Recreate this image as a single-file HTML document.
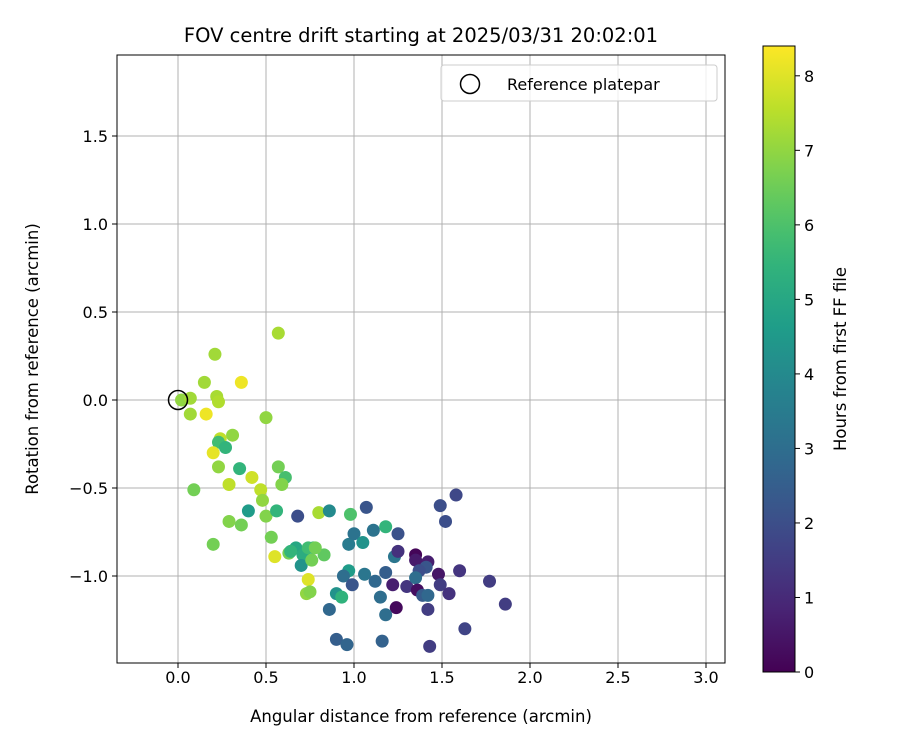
<!DOCTYPE html>
<html><head><meta charset="utf-8"><style>
body{margin:0;background:#fff;font-family:"Liberation Sans","DejaVu Sans",sans-serif}
svg text{font-family:"DejaVu Sans","Liberation Sans",sans-serif;fill:#000}
</style></head><body>
<svg id="chart" width="900" height="750" viewBox="0 0 900 750" xmlns="http://www.w3.org/2000/svg"></svg>
<script>
const xs=[0.57,0.21,0.15,0.36,0.02,0.07,0.22,0.23,0.07,0.16,0.50,0.24,0.31,0.23,0.27,0.20,0.23,0.35,0.57,0.61,0.59,0.42,0.29,0.09,0.47,0.48,0.40,0.50,0.56,0.68,0.80,0.86,0.98,0.29,0.36,1.07,1.11,1.18,1.25,1.49,1.58,1.52,0.53,0.20,0.55,0.63,0.67,0.64,0.71,0.77,0.74,0.70,0.76,0.74,0.73,0.75,0.97,1.00,1.05,0.97,0.94,0.99,1.06,1.12,1.15,1.18,1.23,1.25,1.35,1.35,1.42,1.41,1.37,1.48,1.22,1.30,1.35,1.36,1.39,1.42,1.49,1.54,1.60,1.77,1.86,1.24,1.18,1.42,1.63,0.86,0.90,0.93,0.90,0.96,1.16,1.43,0.83,0.78];
const ys=[0.38,0.26,0.10,0.10,0.0,0.01,0.02,-0.01,-0.08,-0.08,-0.10,-0.22,-0.20,-0.24,-0.27,-0.30,-0.38,-0.39,-0.38,-0.44,-0.48,-0.44,-0.48,-0.51,-0.51,-0.57,-0.63,-0.66,-0.63,-0.66,-0.64,-0.63,-0.65,-0.69,-0.71,-0.61,-0.74,-0.72,-0.76,-0.60,-0.54,-0.69,-0.78,-0.82,-0.89,-0.87,-0.84,-0.86,-0.88,-0.84,-0.84,-0.94,-0.91,-1.02,-1.10,-1.09,-0.82,-0.76,-0.81,-0.97,-1.00,-1.05,-0.99,-1.03,-1.12,-0.98,-0.89,-0.86,-0.88,-0.91,-0.92,-0.95,-0.97,-0.99,-1.05,-1.06,-1.01,-1.08,-1.11,-1.11,-1.05,-1.10,-0.97,-1.03,-1.16,-1.18,-1.22,-1.19,-1.30,-1.19,-1.10,-1.12,-1.36,-1.39,-1.37,-1.40,-0.88,-0.84];
const hours=[7.3,7.2,7.2,8.2,7.0,7.2,7.3,7.4,7.2,8.2,7.0,7.6,7.0,5.8,5.5,8.1,7.0,5.5,6.6,5.9,6.8,7.8,7.6,6.6,7.6,7.0,4.6,6.8,5.5,2.0,7.3,4.0,6.0,6.8,6.6,2.2,3.2,5.5,2.1,2.0,1.8,2.0,6.6,6.6,8.0,6.6,5.0,5.5,5.2,5.6,5.8,4.3,6.6,8.0,7.0,6.8,3.5,3.2,4.3,4.6,3.0,2.2,3.3,2.8,3.0,2.5,3.3,1.2,0.1,0.6,0.7,2.2,2.0,0.5,0.7,1.3,3.0,0.3,2.4,2.8,1.5,1.2,1.3,1.5,1.5,0.2,3.0,1.5,1.7,2.8,4.3,5.4,2.5,2.7,2.6,1.5,6.3,6.6];
const xTicks=[0,0.5,1,1.5,2,2.5,3], xTickLabels=["0.0","0.5","1.0","1.5","2.0","2.5","3.0"];
const yTicks=[-1,-0.5,0,0.5,1,1.5], yTickLabels=["−1.0","−0.5","0.0","0.5","1.0","1.5"];
const cTicks=[0,1,2,3,4,5,6,7,8];
const L=117,R=725,T=55,B=663;
const X=v=>178+v*176, Y=v=>400-v*176;
const CT=46,CB=672,CMAX=8.4, CY=v=>CB-(v/CMAX)*(CB-CT);
const stops=[[68,1,84],[72,40,120],[62,74,137],[49,104,142],[38,130,142],[31,158,137],[53,183,121],[110,206,88],[181,222,43],[253,231,37]];
function vir(t){t=Math.max(0,Math.min(1,t));const p=t*(stops.length-1),i=Math.min(stops.length-2,Math.floor(p)),f=p-i;const a=stops[i],b=stops[i+1];return`rgb(${a.map((v,k)=>Math.round(v+(b[k]-v)*f)).join(',')})`;}
const svg=document.getElementById('chart');const NS='http://www.w3.org/2000/svg';
function el(tag,attrs,parent){const e=document.createElementNS(NS,tag);for(const k in attrs)e.setAttribute(k,attrs[k]);(parent||svg).appendChild(e);return e;}
const grid=el('g',{});


xTicks.forEach((v,i)=>{el('line',{x1:X(v),x2:X(v),y1:T,y2:B,stroke:'#b0b0b0','stroke-width':1},grid);
el('line',{x1:X(v),x2:X(v),y1:B,y2:B+5,stroke:'#000'});
const t=el('text',{x:X(v),y:B+20,'text-anchor':'middle','font-size':16});t.textContent=xTickLabels[i];

});
yTicks.forEach((v,i)=>{el('line',{x1:L,x2:R,y1:Y(v),y2:Y(v),stroke:'#b0b0b0','stroke-width':1},grid);
el('line',{x1:L-5,x2:L,y1:Y(v),y2:Y(v),stroke:'#000'});
const t=el('text',{x:L-9,y:Y(v)+6,'text-anchor':'end','font-size':16});t.textContent=yTickLabels[i];

});
const pts=el('g',{});


xs.forEach((x,i)=>{const c=el('circle',{cx:X(x),cy:Y(ys[i]),r:6.5,fill:vir(hours[i]/CMAX)},pts);

});
const ref=el('circle',{cx:X(0),cy:Y(0),r:9.5,fill:'none',stroke:'#000','stroke-width':1.5});


const fr=el('rect',{x:L,y:T,width:R-L,height:B-T,fill:'none',stroke:'#000','stroke-width':1});


const ttl=el('text',{x:421,y:42,'text-anchor':'middle','font-size':19.5});ttl.textContent='FOV centre drift starting at 2025/03/31 20:02:01';


const xl=el('text',{x:421,y:722,'text-anchor':'middle','font-size':16.5});xl.textContent='Angular distance from reference (arcmin)';


const yl=el('text',{x:38,y:359,'text-anchor':'middle','font-size':16.5,transform:'rotate(-90 38 359)'});yl.textContent='Rotation from reference (arcmin)';


const lg=el('g',{});


el('rect',{x:441,y:65,width:276,height:36,rx:3,fill:'#fff',stroke:'#ccc','fill-opacity':0.8},lg);
el('circle',{cx:470,cy:84,r:9.5,fill:'none',stroke:'#000','stroke-width':1.5},lg);
const lt=el('text',{x:507,y:90,'font-size':16},lg);lt.textContent='Reference platepar';


const defs=el('defs',{});const gr=el('linearGradient',{id:'vg',x1:0,y1:1,x2:0,y2:0},defs);
for(let i=0;i<=20;i++)el('stop',{offset:i/20,'stop-color':vir(i/20)},gr);
const cb=el('rect',{x:763,y:CT,width:32,height:CB-CT,fill:'url(#vg)',stroke:'#000','stroke-width':1});


cTicks.forEach(v=>{el('line',{x1:795,x2:800,y1:CY(v),y2:CY(v),stroke:'#000'});
const t=el('text',{x:804,y:CY(v)+6,'font-size':16});t.textContent=String(v);

});
const cl=el('text',{x:846,y:359,'text-anchor':'middle','font-size':16.5,transform:'rotate(-90 846 359)'});cl.textContent='Hours from first FF file';


</script>
</body></html>
